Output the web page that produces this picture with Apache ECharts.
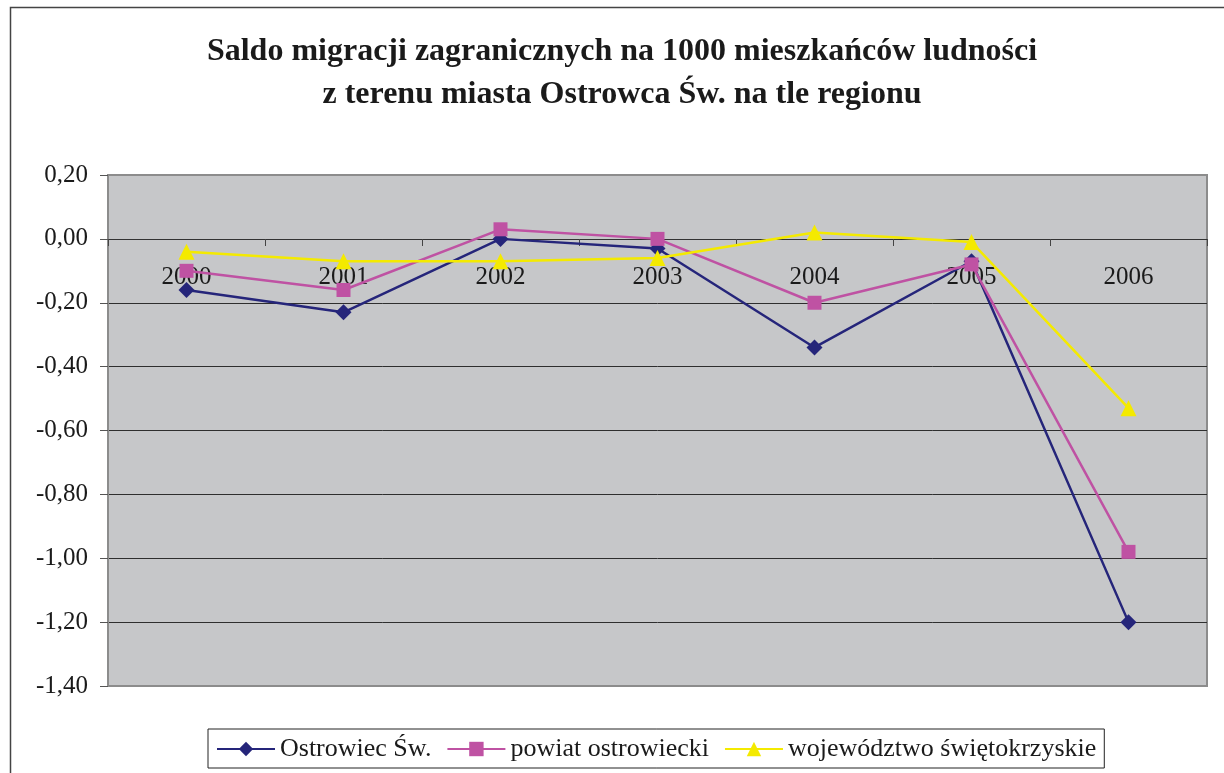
<!DOCTYPE html>
<html>
<head>
<meta charset="utf-8">
<script src="https://cdn.jsdelivr.net/npm/echarts@6/dist/echarts.min.js"></script>
<style>
  html, body { margin: 0; padding: 0; background: #fff; }
  #chart { width: 1224px; height: 773px; }
</style>
</head>
<body>
<div id="chart"></div>
<script>
// lata
var years = ["2000", "2001", "2002", "2003", "2004", "2005", "2006"];
// saldo migracji na 1000 mieszkańców
var ostrowiec = [-0.16, -0.23, 0.00, -0.03, -0.34, -0.07, -1.20];
var powiat = [-0.10, -0.16, 0.03, 0.00, -0.20, -0.08, -0.98];
var wojewodztwo = [-0.04, -0.07, -0.07, -0.06, 0.02, -0.01, -0.53];

var serif = "'Liberation Serif', 'DejaVu Serif', serif";

var myChart = echarts.init(document.getElementById("chart"));

var option = {
  backgroundColor: "#fff",
  animation: false,
  graphic: [
    {
      // ramka wykresu
      type: "rect",
      left: 8,
      top: 5,
      shape: { width: 1260, height: 820 },
      style: { fill: "none", stroke: "#444", lineWidth: 1.5 },
      z: 100
    }
  ],
  title: {
    text: "Saldo migracji zagranicznych na 1000 mieszkańców ludności\nz terenu miasta Ostrowca Św. na tle regionu",
    left: 617,
    textAlign: "center",
    top: 25,
    textStyle: {
      fontFamily: serif,
      fontSize: 32,
      fontWeight: "bold",
      color: "#1a1a1a",
      lineHeight: 43
    }
  },
  grid: {
    left: 108,
    right: 17,
    top: 175,
    bottom: 87,
    show: true,
    backgroundColor: "#c6c7c9",
    borderColor: "#8c8c8c",
    borderWidth: 2
  },
  legend: {
    left: 208,
    top: 729,
    data: ["Ostrowiec Św.", "powiat ostrowiecki", "województwo świętokrzyskie"],
    backgroundColor: "#fff",
    borderColor: "#222",
    borderWidth: 1,
    borderRadius: 0,
    padding: [7, 8, 6, 8],
    itemWidth: 58,
    itemHeight: 18,
    itemGap: 15,
    textStyle: {
      fontFamily: serif,
      fontSize: 26,
      color: "#1a1a1a"
    }
  },
  xAxis: {
    type: "category",
    data: years,
    boundaryGap: true,
    // oś X na wysokości zera
    offset: -447,
    axisLine: {
      onZero: false,
      lineStyle: { color: "#333", width: 1 }
    },
    axisTick: {
      show: true,
      length: 7,
      lineStyle: { color: "#444" }
    },
    axisLabel: {
      margin: 26,
      fontFamily: serif,
      fontSize: 25,
      color: "#1a1a1a"
    },
    splitLine: { show: false }
  },
  yAxis: {
    type: "value",
    min: -1.4,
    max: 0.2,
    interval: 0.2,
    axisLine: {
      show: true,
      lineStyle: { color: "#8c8c8c", width: 2 }
    },
    axisTick: {
      show: true,
      length: 8,
      lineStyle: { color: "#555" }
    },
    axisLabel: {
      margin: 20,
      fontFamily: serif,
      fontSize: 25,
      color: "#1a1a1a",
      formatter: function (v) {
        return v.toFixed(2).replace(".", ",");
      }
    },
    splitLine: {
      show: true,
      showMinLine: false,
      showMaxLine: false,
      lineStyle: { color: "#2e2e2e", width: 1 }
    }
  },
  series: [
    {
      name: "Ostrowiec Św.",
      type: "line",
      data: ostrowiec,
      symbol: "diamond",
      symbolSize: 16,
      lineStyle: { color: "#25257a", width: 2.5 },
      itemStyle: { color: "#25257a" },
      z: 3
    },
    {
      name: "powiat ostrowiecki",
      type: "line",
      data: powiat,
      symbol: "rect",
      symbolSize: 14,
      lineStyle: { color: "#bf52a3", width: 2.5 },
      itemStyle: { color: "#bf52a3" },
      z: 4
    },
    {
      name: "województwo świętokrzyskie",
      type: "line",
      data: wojewodztwo,
      symbol: "triangle",
      symbolSize: 16,
      lineStyle: { color: "#f4ea00", width: 2.5 },
      itemStyle: { color: "#f4ea00" },
      z: 5
    }
  ]
};

myChart.setOption(option);
</script>
</body>
</html>
